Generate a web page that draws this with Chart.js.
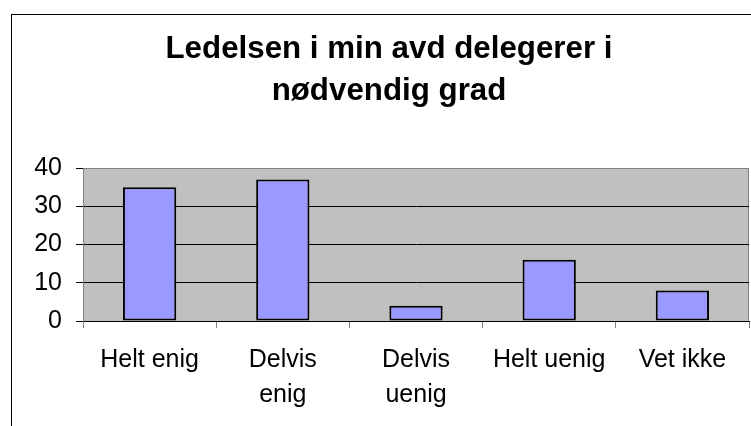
<!DOCTYPE html>
<html lang="no">
<head>
<meta charset="utf-8">
<title>Ledelsen i min avd delegerer i nødvendig grad</title>
<script src="https://cdn.jsdelivr.net/npm/chart.js@4/dist/chart.umd.min.js"></script>
<style>
    html, body { margin: 0; padding: 0; background: #fff; overflow: hidden; }
    .ramme {
        position: absolute;
        left: 11px;
        top: 14px;
        width: 760px;
        height: 420px;
        border-top: 1px solid #000;
        border-left: 1px solid #000;
    }
    #grafDelegering { display: block; }
</style>
</head>
<body>
<div class="ramme">
    <canvas id="grafDelegering" width="754" height="411"></canvas>
</div>
<script>
// Data
const tittel = ['Ledelsen i min avd delegerer i', 'nødvendig grad'];
const kategorier = [['Helt enig'], ['Delvis', 'enig'], ['Delvis', 'uenig'], ['Helt uenig'], ['Vet ikke']];
const verdier = [35, 37, 4, 16, 8];
const yTicks = [0, 10, 20, 30, 40];

const fontFamilie = '"Liberation Sans", Arial, sans-serif';

// ===== GRÅ PLOTTBAKGRUNN =====
const plotBakgrunn = {
    id: 'plotBakgrunn',
    beforeDraw(chart) {
        const { ctx, chartArea: a } = chart;
        ctx.save();
        ctx.fillStyle = '#c0c0c0';
        ctx.fillRect(a.left, a.top, a.right - a.left, a.bottom - a.top);
        ctx.strokeStyle = '#808080';
        ctx.lineWidth = 1;
        ctx.beginPath();
        ctx.moveTo(a.left, a.top + 0.5);
        ctx.lineTo(a.right - 0.5, a.top + 0.5);
        ctx.lineTo(a.right - 0.5, a.bottom);
        ctx.stroke();
        ctx.restore();
    }
};

// ===== GRAF =====
const ctx = document.getElementById('grafDelegering');

new Chart(ctx, {
    type: 'bar',
    data: {
        labels: kategorier,
        datasets: [{
            data: verdier,
            backgroundColor: '#9999ff',
            borderColor: '#000',
            borderWidth: 2,
            borderSkipped: false,
            barPercentage: 0.4,
            categoryPercentage: 1
        }]
    },
    options: {
        responsive: false,
        animation: false,
        devicePixelRatio: 1,
        layout: { padding: 0 },
        plugins: {
            legend: { display: false },
            tooltip: { enabled: false },
            title: {
                display: true,
                text: tittel,
                color: '#000',
                font: { family: fontFamilie, size: 31.3, weight: 'bold', lineHeight: 1.35 },
                padding: { top: 13, bottom: 55.5 }
            }
        },
        scales: {
            x: {
                grid: {
                    display: true,
                    drawOnChartArea: false,
                    drawTicks: true,
                    tickLength: 7,
                    color: '#808080'
                },
                border: { display: true, color: '#000', width: 1 },
                ticks: {
                    color: '#000',
                    padding: 15,
                    maxRotation: 0,
                    autoSkip: false,
                    font: { family: fontFamilie, size: 25, lineHeight: 1.38 }
                },
                afterFit(scale) { scale.height = 105; }
            },
            y: {
                min: 0,
                max: 40,
                grid: {
                    color: (c) => c.tick && c.tick.value === 40 ? '#808080' : '#000',
                    tickColor: '#000',
                    tickLength: 7,
                    lineWidth: 1
                },
                border: { display: true, color: '#808080', width: 1 },
                ticks: {
                    color: '#000',
                    padding: 14,
                    stepSize: 10,
                    font: { family: fontFamilie, size: 25 }
                },
                afterBuildTicks(scale) {
                    scale.ticks = yTicks.map(v => ({ value: v }));
                },
                afterFit(scale) { scale.width = 71; }
            },
            // tom akse til høyre, gir plass mellom plott og ramme
            hoyre: {
                position: 'right',
                display: true,
                grid: { display: false },
                border: { display: false },
                ticks: { display: false },
                afterFit(scale) { scale.width = 17; }
            }
        }
    },
    plugins: [plotBakgrunn]
});
</script>
</body>
</html>
